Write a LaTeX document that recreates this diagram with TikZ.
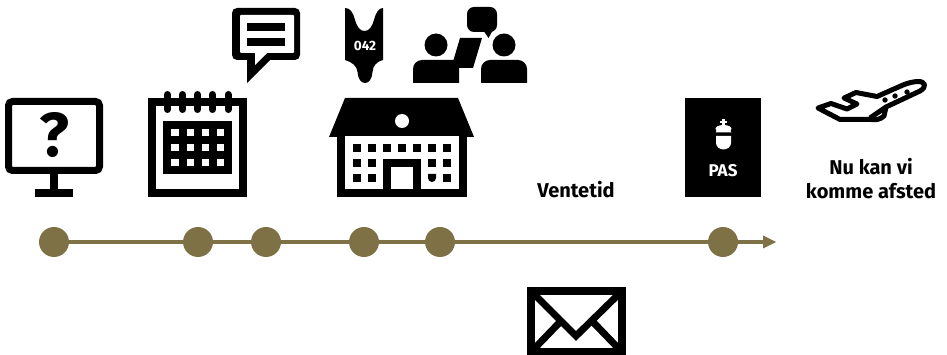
\documentclass[tikz,border=0pt]{standalone}
\usepackage{fontspec}
\setmainfont{Fira Sans}
\definecolor{olive}{HTML}{7E7145}
\tikzset{
  dot/.style={circle,fill=olive,draw=none,minimum size=30pt,inner sep=0pt},
  wh/.style={fill=white,draw=none},
  lab/.style={font=\bfseries\fontsize{20}{24}\selectfont,align=center,inner sep=0pt,text=black},
}
\begin{document}
\begin{tikzpicture}[x=1pt,y=-1pt]
\useasboundingbox (0,0) rectangle (947,355);
% timeline
\coordinate (end) at (776,242);
\coordinate (tipbase) at (763,242);
\draw[olive,line width=4pt] (54,242) -- (tipbase);
\node[dot] (d1) at (54,242) {};
\node[dot] (d2) at (198,242) {};
\node[dot] (d3) at (266,242) {};
\node[dot] (d4) at (364,242) {};
\node[dot] (d5) at (440,242) {};
\node[dot] (d6) at (723,242) {};
\fill[olive] (763,235.5) -- (end) -- (763,248.5) -- cycle;
% monitor
\draw[line width=7pt,rounded corners=4pt] (8.5,101.5) rectangle (99.5,170.5);
\fill (50,174) rectangle (58,190);
\fill (35,189) rectangle (73,197);
\node[font=\bfseries\fontsize{62}{62}\selectfont,inner sep=0pt] (qm) at (54,135) {?};
% calendar
\draw[line width=8pt] (152,102) rectangle (243,193);
\fill (163,121) rectangle (232,174);
\foreach \x in {171,186.5,201.5,216.5}\foreach \y in {129,144,159}{\fill[wh] (\x,\y) rectangle ++(7.5,7.5);}
\foreach \x in {167.5,182.5,197.5,212.5,228}{\draw[line width=7pt,line cap=round] (\x,94.5) -- (\x,109.5);}
% speech bubble
\fill[rounded corners=5pt] (232,8) -- (300,8) -- (300,60) -- (232,60) -- cycle;
\fill (247,55) -- (247,83) -- (275,55) -- cycle;
\fill[wh,rounded corners=1pt] (240,15) rectangle (294,53);
\fill[wh] (255,52) -- (255,65) -- (268,52) -- cycle;
\fill (247,23) rectangle (285,31);
\fill (247,38) rectangle (285,46);
% tag
\fill (345,8) .. controls (350,8) and (353,12) .. (355,20)
  .. controls (357,27) and (360,31) .. (364.5,31)
  .. controls (369,31) and (372,27) .. (374,20)
  .. controls (376,12) and (379,8) .. (383,8)
  -- (383,60) .. controls (376,62) and (373,66) .. (372.5,72)
  .. controls (372,79) and (369,83) .. (365,83)
  .. controls (361,83) and (358,79) .. (357.5,72)
  .. controls (357,66) and (352,62) .. (345,60) -- cycle;
\node[font=\bfseries\fontsize{13.5}{14}\selectfont,text=white,inner sep=0pt] (num) at (365,46) {042};
% people
\fill (436,45) circle (11.5);
\fill (504,45) circle (11.5);
\fill (413,83) -- (413,69) arc[start angle=180,end angle=270,radius=9] -- (453.5,60) -- (460,38) -- (482,38) -- (473,68) -- (459,68) -- (459,83) -- cycle;
\fill (481,83) -- (481,69) arc[start angle=180,end angle=270,radius=9] -- (518,60) arc[start angle=270,end angle=360,radius=9] -- (527,83) -- cycle;
\fill[rounded corners=7pt] (467,7) rectangle (497,32);
\fill (483,30) -- (488.5,38) -- (493,30) -- cycle;
% school
\fill (345,98) -- (458,98) -- (474,137) -- (329,137) -- cycle;
\fill[wh] (402,121) circle (7);
\fill (337,136) rectangle (467,197);
\fill[wh] (345,136) rectangle (459,189);
\foreach \x in {353,368,383,398,413,428,443}{\fill (\x,144) rectangle ++(8,8);}
\foreach \x in {353,368,428,443}{\fill (\x,159) rectangle ++(8,8);}
\foreach \x in {353,368,443}{\fill (\x,174) rectangle ++(8,8);}
\fill (428,174) -- (436,174) -- (436,178) arc[start angle=0,end angle=180,radius=4] -- cycle;
\fill (383,159) rectangle (421,197);
\fill[wh] (391,167) rectangle (413,189);
% passport
\fill (685,98) rectangle (761,197);
\fill[wh] (722,119) rectangle (724.5,126);
\fill[wh] (720,121) rectangle (726.5,123);
\fill[wh] (715.5,132.5) -- (716.5,131) .. controls (713,127) and (719,125) .. (723.5,125) .. controls (728,125) and (734,127) .. (730.5,131) -- (731.5,132.5) -- cycle;
\fill[wh] (716,136) -- (731,136) -- (731,143) .. controls (731,147) and (727,149.5) .. (723.5,149.5) .. controls (720,149.5) and (716,147) .. (716,143) -- cycle;
\node[font=\bfseries\fontsize{17}{17}\selectfont,text=white,inner sep=0pt] (pas) at (723,171) {PAS};
% plane
\draw[line width=5pt,line join=round]
  (917,81.5) .. controls (926,81) and (927,87) .. (920,91)
  -- (886,107) -- (884,116) .. controls (880,120) and (875,120) .. (871,119.5)
  -- (840,119.5) -- (818,108) -- (831,103.5) -- (847,109) -- (857,104) -- (844,98) -- (856,92.5) -- (877,96.5)
  -- (903,85) .. controls (908,83) and (912,82) .. (917,81.5) -- cycle;
\draw[line width=5pt,line join=round] (886,107) -- (870,118);
\fill (885,100) circle (2.7) (895,96) circle (2.7) (907,92) circle (2.7);
% envelope
\fill (527,287) rectangle (626,355);
\fill[wh] (535,295) rectangle (618,348);
\draw[line width=7pt,line join=miter] (531,291) -- (576,336) -- (622,291);
\draw[line width=7pt] (533,350) -- (560,322);
\draw[line width=7pt] (620,350) -- (593,322);
% labels
\node[lab] (wait) at (576,190) {Ventetid};
\node[lab] (go) at (871,179) {Nu kan vi\\komme afsted};
\end{tikzpicture}
\end{document}
